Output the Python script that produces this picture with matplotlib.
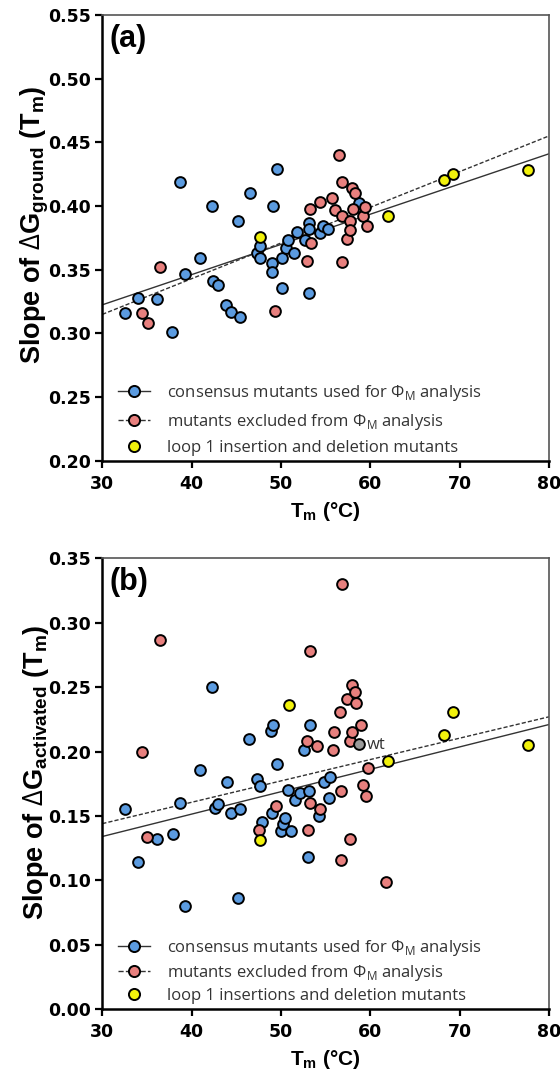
import numpy as np
import matplotlib
matplotlib.use("Agg")
import matplotlib.pyplot as plt
from matplotlib.lines import Line2D

plt.rcParams['font.family'] = ['Liberation Sans', 'DejaVu Sans']
plt.rcParams['mathtext.fontset'] = 'custom'
plt.rcParams['mathtext.rm'] = 'Open Sans'
plt.rcParams['mathtext.bf'] = 'Liberation Sans:bold'

# ---- panel (a) data ----
blue_a_x = [32.5, 34.0, 36.1, 37.8, 38.7, 39.3, 40.9, 42.25, 42.4, 43.0, 43.9, 44.4, 45.4,
            45.2, 46.5, 47.3, 47.6, 47.7, 49.0, 49.0, 49.1, 49.6, 50.1, 50.1, 50.6, 50.8,
            51.4, 51.8, 52.7, 53.1, 53.1, 53.1, 54.4, 54.7, 55.3, 58.7]
blue_a_y = [0.316, 0.328, 0.327, 0.301, 0.419, 0.347, 0.359, 0.400, 0.341, 0.338, 0.322,
            0.317, 0.313, 0.388, 0.410, 0.363, 0.359, 0.369, 0.355, 0.348, 0.400, 0.429,
            0.359, 0.336, 0.367, 0.373, 0.363, 0.380, 0.373, 0.387, 0.382, 0.332, 0.379,
            0.384, 0.382, 0.402]
red_a_x = [34.4, 35.1, 36.5, 49.3, 52.9, 53.3, 53.4, 54.4, 55.7, 56.1, 56.5, 56.8, 56.8,
           56.8, 57.4, 57.7, 57.7, 57.9, 58.1, 58.3, 59.2, 59.4, 59.6]
red_a_y = [0.316, 0.308, 0.352, 0.318, 0.357, 0.3975, 0.371, 0.4035, 0.406, 0.397, 0.440,
           0.419, 0.392, 0.356, 0.374, 0.388, 0.381, 0.414, 0.398, 0.4105, 0.392, 0.3995,
           0.384]
yellow_a_x = [47.7, 62.0, 68.2, 69.2, 77.6]
yellow_a_y = [0.376, 0.392, 0.4205, 0.425, 0.428]
fit_a_solid = [0.00237, 0.2514]   # slope, intercept
fit_a_dashed = [0.0028, 0.231]

# ---- panel (b) data ----
blue_b_x = [32.5, 34.0, 36.1, 37.9, 38.7, 39.3, 40.9, 42.25, 42.6, 43.0, 44.0, 44.4, 45.2,
            45.4, 46.4, 47.3, 47.7, 47.9, 48.9, 49.1, 49.0, 49.6, 50.0, 50.2, 50.5, 50.8,
            51.1, 51.6, 52.1, 52.6, 53.0, 53.1, 53.2, 54.3, 54.8, 55.4, 55.5]
blue_b_y = [0.155, 0.114, 0.132, 0.136, 0.160, 0.080, 0.186, 0.250, 0.156, 0.159, 0.176,
            0.152, 0.086, 0.155, 0.210, 0.179, 0.173, 0.145, 0.216, 0.221, 0.152, 0.190,
            0.138, 0.144, 0.148, 0.170, 0.138, 0.162, 0.168, 0.201, 0.118, 0.169, 0.221,
            0.150, 0.176, 0.164, 0.180]
red_b_x = [34.4, 35.0, 36.5, 47.5, 49.4, 52.9, 53.0, 53.2, 53.3, 54.0, 54.4, 55.8, 55.9,
           56.6, 56.7, 56.7, 56.8, 57.4, 57.7, 57.7, 58.0, 58.0, 58.3, 58.4, 58.9, 59.2,
           59.5, 59.7, 61.7]
red_b_y = [0.200, 0.134, 0.287, 0.139, 0.158, 0.208, 0.139, 0.160, 0.278, 0.2045, 0.155,
           0.201, 0.215, 0.231, 0.169, 0.116, 0.330, 0.241, 0.208, 0.132, 0.252, 0.215,
           0.246, 0.2375, 0.221, 0.174, 0.1655, 0.187, 0.099]
yellow_b_x = [47.7, 50.9, 62.0, 68.2, 69.2, 77.6]
yellow_b_y = [0.131, 0.236, 0.193, 0.213, 0.2305, 0.205]
wt_x = [58.7]
wt_y = [0.206]
fit_b_solid = [0.00174, 0.0818]
fit_b_dashed = [0.00166, 0.0942]

BLUE = '#5b9be0'
RED = '#e8807e'
YEL = '#f2f20c'
GRAY = '#9a9a9a'
LINEC = '#333333'

fig = plt.figure(figsize=(5.6, 10.75), dpi=100)
ax_a = fig.add_axes([0.1827, 0.5712, 0.7977, 0.415])
ax_b = fig.add_axes([0.1827, 0.0614, 0.7977, 0.4191])


def style(ax, ylim, yticks):
    ax.set_xlim(30, 80)
    ax.set_ylim(*ylim)
    ax.set_xticks(np.arange(30, 81, 10))
    ax.set_yticks(yticks)
    ax.set_yticklabels(['%.2f' % t for t in yticks])
    for s in ['left', 'bottom']:
        ax.spines[s].set_linewidth(1.8)
        ax.spines[s].set_color('black')
    for s in ['top', 'right']:
        ax.spines[s].set_linewidth(1.2)
        ax.spines[s].set_color('#555555')
    ax.tick_params(direction='out', length=5, width=1.6, labelsize=12.5, pad=3)
    ax.tick_params(axis='x', pad=5)
    for lab in ax.get_xticklabels() + ax.get_yticklabels():
        lab.set_fontweight('bold')
        lab.set_family('DejaVu Sans')
    ax.set_xlabel(r'T$_{\mathbf{m}}$ (°C)', fontsize=15, fontweight='bold', labelpad=5)


def draw(ax, bx, by, rx, ry, yx, yy, fs, fd):
    xs = np.array([30, 80])
    ax.plot(xs, fs[0] * xs + fs[1], '-', color=LINEC, lw=1.0, zorder=2)
    ax.plot(xs, fd[0] * xs + fd[1], '--', color=LINEC, lw=1.0, dashes=(3, 1.5), zorder=2)
    kw = dict(s=60, edgecolors='black', linewidths=1.4, zorder=3)
    ax.scatter(bx, by, c=BLUE, **kw)
    ax.scatter(rx, ry, c=RED, **kw)
    ax.scatter(yx, yy, c=YEL, **kw)


def legend(ax, yellow_text, spacing):
    h1 = Line2D([], [], color=LINEC, ls='-', lw=1.0, marker='o', markersize=8,
                markerfacecolor=BLUE, markeredgecolor='black', markeredgewidth=1.4)
    h2 = Line2D([], [], color=LINEC, ls='--', lw=1.0, marker='o', markersize=8,
                markerfacecolor=RED, markeredgecolor='black', markeredgewidth=1.4)
    h3 = Line2D([], [], ls='none', marker='o', markersize=8,
                markerfacecolor=YEL, markeredgecolor='black', markeredgewidth=1.4)
    labels = ['consensus mutants used for \u03a6$_{\\mathrm{M}}$ analysis',
              'mutants excluded from \u03a6$_{\\mathrm{M}}$ analysis',
              yellow_text]
    leg = ax.legend([h1, h2, h3], labels, loc='lower left', frameon=False,
                    handlelength=1.9, handletextpad=1.0, labelspacing=spacing,
                    borderpad=0.1, borderaxespad=0.2, bbox_to_anchor=(0.025, 0.0),
                    prop={'family': 'Open Sans', 'size': 12})
    for t in leg.get_texts():
        t.set_color('#333333')


draw(ax_a, blue_a_x, blue_a_y, red_a_x, red_a_y, yellow_a_x, yellow_a_y,
     fit_a_solid, fit_a_dashed)
style(ax_a, (0.20, 0.55), np.arange(0.20, 0.551, 0.05))
ax_a.set_ylabel(r'Slope of $\Delta$G$_{\mathbf{ground}}$ (T$_{\mathbf{m}}$)',
                fontsize=19.5, fontweight='bold')
ax_a.yaxis.set_label_coords(-0.115, 0.53)
ax_a.text(0.015, 0.98, '(a)', transform=ax_a.transAxes, fontsize=22,
          fontweight='bold', va='top', ha='left')
legend(ax_a, 'loop 1 insertion and deletion mutants', 0.5)

draw(ax_b, blue_b_x, blue_b_y, red_b_x, red_b_y, yellow_b_x, yellow_b_y,
     fit_b_solid, fit_b_dashed)
ax_b.scatter(wt_x, wt_y, c=GRAY, s=60, edgecolors='black', linewidths=1.4, zorder=3)
ax_b.annotate('wt', (wt_x[0], wt_y[0]), xytext=(6, -1), textcoords='offset points',
              fontsize=12, family='Open Sans', color='#333333', va='center')
style(ax_b, (0.0, 0.35), np.arange(0.0, 0.351, 0.05))
ax_b.set_ylabel(r'Slope of $\Delta$G$_{\mathbf{activated}}$ (T$_{\mathbf{m}}$)',
                fontsize=19.5, fontweight='bold')
ax_b.yaxis.set_label_coords(-0.115, 0.526)
ax_b.text(0.015, 0.98, '(b)', transform=ax_b.transAxes, fontsize=22,
          fontweight='bold', va='top', ha='left')
legend(ax_b, 'loop 1 insertions and deletion mutants', 0.3)

fig.savefig('out.png', dpi=100)
